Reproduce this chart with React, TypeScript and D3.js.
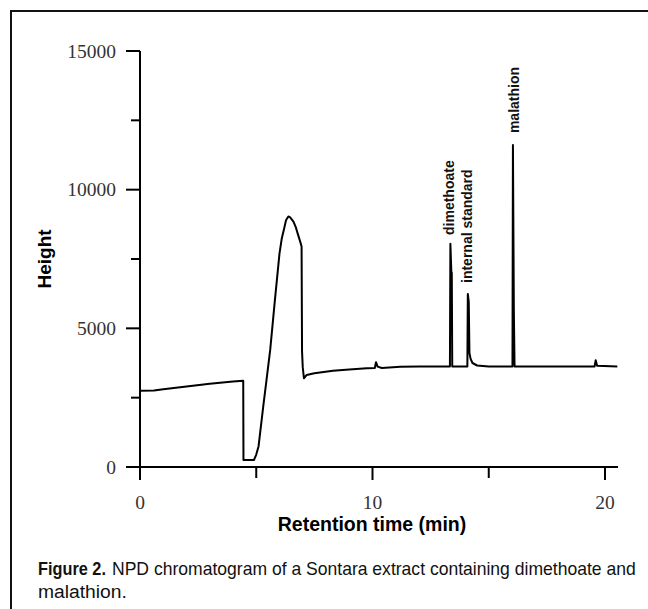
import React, { useLayoutEffect, useRef, useState } from "react";
import * as d3 from "d3";

const W = 648;
const H = 609;

// Chromatogram trace (retention time in min, detector height)
const traceTime = [
  0, 0.6, 1.0, 2.0, 3.0, 4.0, 4.44, 4.45, 4.9, 5.0, 5.1, 5.3, 5.45, 5.6, 5.8, 6.0,
  6.1, 6.2, 6.28, 6.38, 6.45, 6.6, 6.7, 6.8, 6.9, 6.95, 6.97, 7.0, 7.05, 7.17, 7.5,
  8.3, 9.0, 9.75, 10.1, 10.15, 10.22, 10.4, 11.2, 12.0, 13.33, 13.35, 13.39, 13.41,
  13.43, 14.08, 14.1, 14.14, 14.17, 14.22, 14.3, 14.5, 15.0, 16.02, 16.04, 16.08,
  16.11, 19.55, 19.6, 19.66, 20.53,
];
const traceHeight = [
  2750, 2760, 2800, 2900, 3000, 3080, 3110, 250, 250, 450, 750, 2180, 3200, 4220,
  6000, 7700, 8250, 8600, 8900, 9030, 9010, 8850, 8650, 8370, 8100, 7950, 4160,
  3600, 3200, 3320, 3380, 3470, 3520, 3560, 3570, 3780, 3620, 3570, 3617, 3620,
  3620, 8050, 7050, 7000, 3620, 3620, 6240, 5950, 4100, 3900, 3750, 3660, 3620,
  3620, 11610, 5600, 3620, 3620, 3850, 3650, 3620,
];

const yMajorTicks = [0, 5000, 10000, 15000];
const yMinorTicks = [2500, 7500, 12500];
const xMajorTicks = [0, 10, 20];
const xMinorTicks = [5, 15];

const peakNames = ["dimethoate", "internal standard", "malathion"];
const peakTimes = [13.3, 14.07, 16.08];
const peakLabelBase = [8365, 6635, 12040];

const captionBold = "Figure 2.";
const captionLine1 = "NPD chromatogram of a Sontara extract containing dimethoate and";
const captionLine2 = "malathion.";

function FitText(props: {
  x: number;
  y: number;
  width: number;
  text: string;
  bold?: boolean;
  fontFamily: string;
  fontSize: number;
}) {
  const ref = useRef<SVGTextElement>(null);
  const [sx, setSx] = useState(1);
  useLayoutEffect(() => {
    if (ref.current) {
      const len = ref.current.getComputedTextLength();
      if (len > 0) setSx(props.width / len);
    }
  }, [props.text, props.width]);
  return (
    <g transform={`translate(${props.x},${props.y}) scale(${sx},1)`}>
      <text
        ref={ref}
        x={0}
        y={0}
        fontFamily={props.fontFamily}
        fontSize={props.fontSize}
        fontWeight={props.bold ? "bold" : "normal"}
        fill="#111"
      >
        {props.text}
      </text>
    </g>
  );
}

export default function App() {
  const x = d3.scaleLinear().domain([0, 20]).range([140, 605]);
  const y = d3.scaleLinear().domain([0, 15000]).range([467, 51]);

  const pts: [number, number][] = traceTime.map((t, i) => [t, traceHeight[i]]);
  const line = d3
    .line<[number, number]>()
    .x((d) => x(d[0]))
    .y((d) => y(d[1]))
    .curve(d3.curveLinear);

  const serif = "'Liberation Serif', 'DejaVu Serif', serif";
  const sans = "'Liberation Sans', Arial, sans-serif";

  return (
    <svg
      width={W}
      height={H}
      viewBox={`0 0 ${W} ${H}`}
      style={{ position: "absolute", left: 0, top: 0, background: "#fff" }}
    >
      <rect x={0} y={0} width={W} height={H} fill="#fff" />
      {/* frame */}
      <path d={`M11,${H} L11,11 L${W},11`} fill="none" stroke="#111" strokeWidth={2} />

      {/* y axis */}
      <line x1={140} x2={140} y1={y(15000)} y2={480} stroke="#000" strokeWidth={2} />
      {yMajorTicks.map((v) => (
        <g key={"ym" + v}>
          <line x1={126} x2={140} y1={y(v)} y2={y(v)} stroke="#000" strokeWidth={2} />
          <text
            x={116}
            y={y(v)}
            dy="0.34em"
            textAnchor="end"
            fontFamily={serif}
            fontSize={19.5}
            fill="#333"
          >
            {v}
          </text>
        </g>
      ))}
      {yMinorTicks.map((v) => (
        <line key={"yn" + v} x1={131} x2={140} y1={y(v)} y2={y(v)} stroke="#000" strokeWidth={2} />
      ))}

      {/* x axis */}
      <line x1={126} x2={x(20.56)} y1={467} y2={467} stroke="#000" strokeWidth={2} />
      {xMajorTicks.map((v) => (
        <g key={"xm" + v}>
          <line x1={x(v)} x2={x(v)} y1={467} y2={480} stroke="#000" strokeWidth={2} />
          <text
            x={x(v)}
            y={509}
            textAnchor="middle"
            fontFamily={serif}
            fontSize={19.5}
            fill="#333"
          >
            {v}
          </text>
        </g>
      ))}
      {xMinorTicks.map((v) => (
        <line key={"xn" + v} x1={x(v)} x2={x(v)} y1={467} y2={478} stroke="#000" strokeWidth={2} />
      ))}

      {/* axis titles */}
      <text
        x={372}
        y={531}
        textAnchor="middle"
        fontFamily={sans}
        fontWeight="bold"
        fontSize={19.5}
        fill="#000"
      >
        Retention time (min)
      </text>
      <text
        transform={`translate(44,${259}) rotate(-90)`}
        dy="0.35em"
        textAnchor="middle"
        fontFamily={sans}
        fontWeight="bold"
        fontSize={19}
        fill="#000"
      >
        Height
      </text>

      {/* trace */}
      <path d={line(pts) || ""} fill="none" stroke="#000" strokeWidth={2} strokeLinejoin="round" />

      {/* peak labels */}
      {peakNames.map((n, i) => (
        <text
          key={n}
          transform={`translate(${x(peakTimes[i])},${y(peakLabelBase[i])}) rotate(-90)`}
          dy="0.35em"
          textAnchor="start"
          fontFamily={sans}
          fontWeight="bold"
          fontSize={14}
          fill="#111"
        >
          {n}
        </text>
      ))}

      {/* caption */}
      <FitText x={38} y={575} width={68} text={captionBold} bold fontFamily={sans} fontSize={19} />
      <FitText x={112} y={575} width={524} text={captionLine1} fontFamily={sans} fontSize={19} />
      <FitText x={38} y={598} width={89} text={captionLine2} fontFamily={sans} fontSize={19} />
    </svg>
  );
}
